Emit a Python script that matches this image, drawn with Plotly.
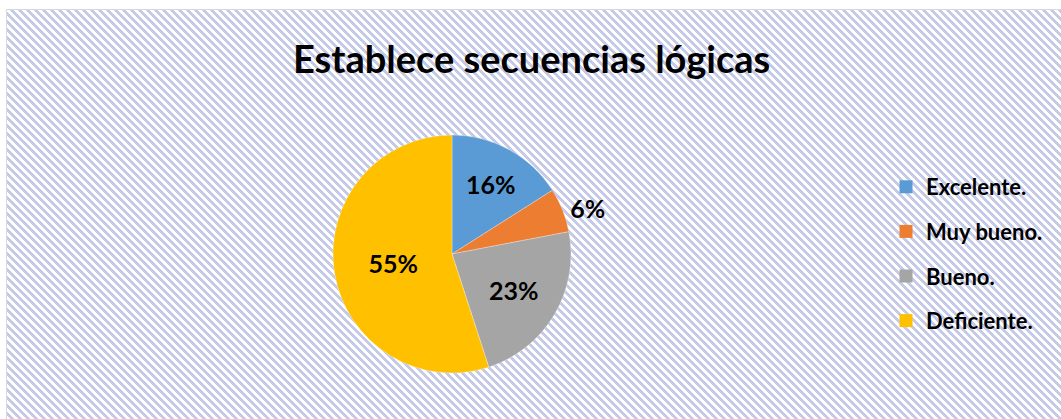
import base64
import plotly.graph_objects as go

title = "Establece secuencias lógicas"
categories = ["Excelente.", "Muy bueno.", "Bueno.", "Deficiente."]
values = [16, 6, 23, 55]
colors = ["#5B9BD5", "#ED7D31", "#A5A5A5", "#FFC000"]
text_positions = ["inside", "outside", "inside", "inside"]

W, H = 1061, 419

# background: wide downward diagonal hatch inside a light grey frame
tile = "".join(
    f'<rect x="{(r + k) % 8}" y="{r}" width="1" height="1" fill="#c6cae9"/>'
    for r in range(8) for k in range(4)
)
svg = (
    f'<svg xmlns="http://www.w3.org/2000/svg" width="{W}" height="{H}" shape-rendering="crispEdges">'
    f'<defs><pattern id="p" width="8" height="8" patternUnits="userSpaceOnUse">'
    f'<rect width="8" height="8" fill="#ffffff"/>{tile}</pattern></defs>'
    f'<rect width="{W}" height="{H}" fill="#ffffff"/>'
    f'<rect x="6" y="9" width="{W}" height="{H}" fill="#d9d9d9"/>'
    f'<rect x="7" y="10" width="{W}" height="{H}" fill="url(#p)"/>'
    f'</svg>'
)
bg_src = "data:image/svg+xml;base64," + base64.b64encode(svg.encode()).decode()

cx, cy, r = 452, 254, 119

fig = go.Figure()
fig.add_trace(go.Pie(
    labels=categories,
    values=values,
    sort=False,
    direction="clockwise",
    rotation=0,
    marker=dict(colors=colors, line=dict(color="rgba(255,255,255,0.6)", width=0.5)),
    textinfo="percent",
    texttemplate="%{percent:.0%}",
    textposition=text_positions,
    insidetextorientation="horizontal",
    textfont=dict(family="Lato", size=25, color="#000000", weight="bold"),
    showlegend=False,
    hoverinfo="label+percent",
    domain=dict(x=[(cx - r) / W, (cx + r) / W], y=[(H - cy - r) / H, (H - cy + r) / H]),
))

for i, (name, col) in enumerate(zip(categories, colors)):
    fig.add_trace(go.Scatter(
        x=[None], y=[None], mode="markers", name=name,
        marker=dict(symbol="square", color=col, size=13),
        legendgroup=f"g{i}", showlegend=True, hoverinfo="skip",
    ))

fig.update_layout(
    width=W, height=H,
    margin=dict(l=0, r=0, t=0, b=0),
    paper_bgcolor="rgba(0,0,0,0)",
    plot_bgcolor="rgba(0,0,0,0)",
    xaxis=dict(visible=False),
    yaxis=dict(visible=False),
    images=[dict(source=bg_src, xref="paper", yref="paper", x=0, y=1,
                 sizex=1, sizey=1, xanchor="left", yanchor="top",
                 sizing="stretch", layer="below")],
    annotations=[dict(text=f"<b>{title}</b>", x=531 / W, y=(H - 58) / H,
                      xref="paper", yref="paper", showarrow=False,
                      xanchor="center", yanchor="middle",
                      font=dict(family="Lato", size=38, color="#000000"))],
    legend=dict(x=886 / W, y=(H - 166) / H, xanchor="left", yanchor="top",
                bgcolor="rgba(0,0,0,0)", tracegroupgap=13,
                font=dict(family="Lato", size=22, color="#000000", weight="bold"),
                itemwidth=30),
    showlegend=True,
)

fig.write_html("out.html", config={"displayModeBar": False},
               post_script="document.body.style.margin='0';")
